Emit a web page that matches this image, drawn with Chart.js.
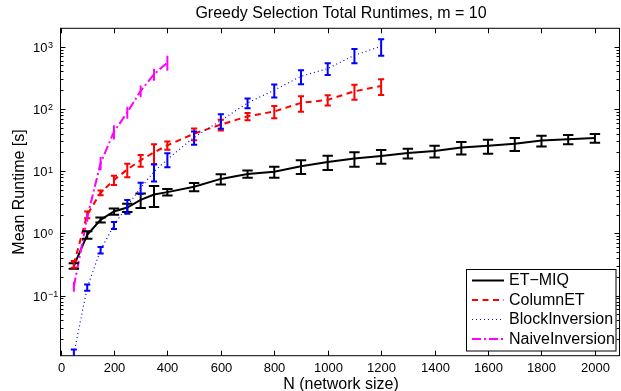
<!DOCTYPE html>
<html>
<head>
<meta charset="utf-8">
<script src="https://cdn.jsdelivr.net/npm/chart.js@4.4.1/dist/chart.umd.min.js"></script>
<style>
  html, body { margin: 0; padding: 0; background: #fff; }
  canvas { display: block; }
</style>
</head>
<body>
<canvas id="runtimes" width="621" height="391"></canvas>
<script>
// network sizes
const nEtMiq = [50, 100, 150, 200, 250, 300, 350, 400, 500, 600, 700, 800, 900, 1000,
  1100, 1200, 1300, 1400, 1500, 1600, 1700, 1800, 1900, 2000];
const nColumn = [50, 100, 150, 200, 250, 300, 350, 400, 500, 600, 700, 800, 900, 1000, 1100, 1200];
const nNaive = [50, 100, 150, 200, 250, 300, 350, 400];

// mean runtimes [s] and std deviations
const etMiqMean = [0.30, 0.95, 1.65, 2.25, 2.6, 3.46, 4.2, 4.6, 5.6, 7.5, 9.0, 9.8, 12, 14,
  16, 17.5, 19.5, 21, 24, 25.5, 27.5, 31, 32.5, 34];
const etMiqStd = [0.03, 0.13, 0.15, 0.25, 0.4, 0.9, 1.55, 0.55, 0.85, 1.4, 1.2, 2.0, 3.0, 3.6,
  4.2, 4.3, 3.5, 4.5, 5.5, 6.5, 6.5, 6.0, 5.5, 5.5];

const columnEtMean = [0.32, 2.0, 4.5, 7.2, 10.6, 15, 20, 26, 40, 56, 76, 91, 125, 140, 192, 234];
const columnEtStd = [0.04, 0.25, 0.4, 1.2, 2.6, 3.2, 7, 4, 8.5, 11, 10, 20, 35, 26, 52, 66];

const blockInvMean = [0.0116, 0.135, 0.54, 1.35, 2.75, 5.4, 9.8, 15.5, 35, 65, 125, 200, 335, 445, 730, 1015];
const blockInvStd = [0.002, 0.016, 0.065, 0.17, 0.68, 1.1, 3, 3.9, 8.5, 17, 22, 48, 85, 95, 190, 300];

const naiveInvMean = [0.14, 1.8, 13.5, 43, 88, 195, 360, 557];
const naiveInvStd = [0.02, 0.2, 2.8, 9.5, 16, 35, 65, 130];

// axis ticks
const xTickValues = [0, 200, 400, 600, 800, 1000, 1200, 1400, 1600, 1800, 2000];
const yTickExps = [-1, 0, 1, 2, 3];

const FONT = '"Liberation Sans", Arial, Helvetica, sans-serif';

function points(xs, ys) {
  return xs.map((x, i) => ({ x: x, y: ys[i] }));
}

const errorBars = {
  id: "errorBars",
  afterDatasetsDraw(chart) {
    const { ctx, chartArea: a, scales: { x, y } } = chart;
    ctx.save();
    ctx.beginPath();
    ctx.rect(a.left, a.top, a.right - a.left, a.bottom - a.top);
    ctx.clip();
    chart.data.datasets.forEach((ds) => {
      const xs = ds.data.map((p) => p.x);
      const tee = (Math.max(...xs) - Math.min(...xs)) / 100;
      ctx.strokeStyle = ds.borderColor;
      ctx.lineWidth = 2;
      ctx.setLineDash([]);
      ds.data.forEach((p, i) => {
        const s = ds.errors[i];
        const px = x.getPixelForValue(p.x);
        const w = x.getPixelForValue(p.x + tee) - px;
        const yHi = y.getPixelForValue(p.y + s);
        const lo = p.y - s;
        const yLo = lo > 0 ? y.getPixelForValue(lo) : a.bottom + 10;
        ctx.beginPath();
        ctx.moveTo(px, yHi); ctx.lineTo(px, yLo);
        ctx.moveTo(px - w, yHi); ctx.lineTo(px + w, yHi);
        ctx.moveTo(px - w, yLo); ctx.lineTo(px + w, yLo);
        ctx.stroke();
      });
    });
    ctx.restore();
  },
};

const matlabAxes = {
  id: "matlabAxes",
  afterDraw(chart) {
    const { ctx, chartArea: a, scales: { x, y } } = chart;
    ctx.save();
    ctx.strokeStyle = "#000";
    ctx.fillStyle = "#000";
    ctx.lineWidth = 1;
    ctx.setLineDash([]);

    // box
    ctx.strokeRect(a.left, a.top, a.right - a.left, a.bottom - a.top);

    // x ticks, inward top and bottom
    ctx.font = "13px " + FONT;
    ctx.textAlign = "center";
    ctx.textBaseline = "alphabetic";
    xTickValues.forEach((v) => {
      const px = Math.round(x.getPixelForValue(v)) + 0.5;
      ctx.beginPath();
      ctx.moveTo(px, a.bottom); ctx.lineTo(px, a.bottom - 5);
      ctx.moveTo(px, a.top); ctx.lineTo(px, a.top + 5);
      ctx.stroke();
      ctx.fillText(String(v), px, 372);
    });

    // y ticks (log, with minors), inward left and right
    for (let e = -2; e <= 3; e++) {
      for (let m = 1; m <= 9; m++) {
        const v = m * Math.pow(10, e);
        if (v < y.min || v > y.max) continue;
        const py = Math.round(y.getPixelForValue(v)) + 0.5;
        const len = m === 1 ? 5 : 3;
        ctx.beginPath();
        ctx.moveTo(a.left, py); ctx.lineTo(a.left + len, py);
        ctx.moveTo(a.right, py); ctx.lineTo(a.right - len, py);
        ctx.stroke();
      }
    }
    ctx.textAlign = "left";
    yTickExps.forEach((e) => {
      const py = y.getPixelForValue(Math.pow(10, e));
      ctx.font = "13px " + FONT;
      ctx.fillText("10", 33, py + 5);
      const w = ctx.measureText("10").width;
      ctx.font = "9px " + FONT;
      ctx.fillText(e < 0 ? "\u2212" + Math.abs(e) : String(e), 33 + w + 0.5, py + 1.5);
    });

    // titles
    ctx.font = "16px " + FONT;
    ctx.textAlign = "center";
    const cx = (a.left + a.right) / 2;
    ctx.fillText("Greedy Selection Total Runtimes, m = 10", cx + 1, 17.5);
    ctx.fillText("N (network size)", cx + 1, 389);
    ctx.save();
    ctx.translate(24, (a.top + a.bottom) / 2);
    ctx.rotate(-Math.PI / 2);
    ctx.fillText("Mean Runtime [s]", 0, 0);
    ctx.restore();

    // legend
    const lx = 466.5, ly = 269.5, lw = 149.5, lh = 81.5;
    ctx.fillStyle = "#fff";
    ctx.fillRect(lx, ly, lw, lh);
    ctx.strokeStyle = "#000";
    ctx.lineWidth = 1;
    ctx.strokeRect(lx, ly, lw, lh);
    ctx.textAlign = "left";
    ctx.textBaseline = "middle";
    ctx.font = "16px " + FONT;
    chart.data.datasets.forEach((ds, i) => {
      const ry = 280.5 + i * 19.5;
      ctx.strokeStyle = ds.borderColor;
      ctx.lineWidth = ds.borderWidth;
      ctx.setLineDash(ds.borderDash || []);
      ctx.beginPath();
      ctx.moveTo(472, ry); ctx.lineTo(504, ry);
      ctx.stroke();
      ctx.fillStyle = "#000";
      ctx.fillText(ds.label, 509, ry + 0.5);
    });
    ctx.restore();
  },
};

new Chart(document.getElementById("runtimes"), {
  type: "line",
  data: {
    datasets: [
      {
        label: "ET\u2212MIQ",
        data: points(nEtMiq, etMiqMean),
        errors: etMiqStd,
        borderColor: "#000000",
        borderWidth: 2,
        order: 4,
      },
      {
        label: "ColumnET",
        data: points(nColumn, columnEtMean),
        errors: columnEtStd,
        borderColor: "#ff0000",
        borderWidth: 2,
        borderDash: [6, 4.5],
        order: 3,
      },
      {
        label: "BlockInversion",
        data: points(nColumn, blockInvMean),
        errors: blockInvStd,
        borderColor: "#0000ff",
        borderWidth: 1.2,
        borderDash: [1, 3],
        order: 2,
      },
      {
        label: "NaiveInversion",
        data: points(nNaive, naiveInvMean),
        errors: naiveInvStd,
        borderColor: "#ff00ff",
        borderWidth: 2,
        borderDash: [9, 3, 2, 3],
        order: 1,
      },
    ],
  },
  options: {
    responsive: false,
    animation: false,
    devicePixelRatio: 1,
    layout: { padding: { left: 60.5, right: 1.5, top: 28.3, bottom: 35.3 } },
    elements: { point: { radius: 0 }, line: { tension: 0, fill: false } },
    scales: {
      x: { type: "linear", min: 0, max: 2092, display: false },
      y: { type: "logarithmic", min: 0.0108, max: 1977, display: false },
    },
    plugins: {
      legend: { display: false },
      title: { display: false },
      tooltip: { enabled: false },
    },
  },
  plugins: [errorBars, matlabAxes],
});
</script>
</body>
</html>
